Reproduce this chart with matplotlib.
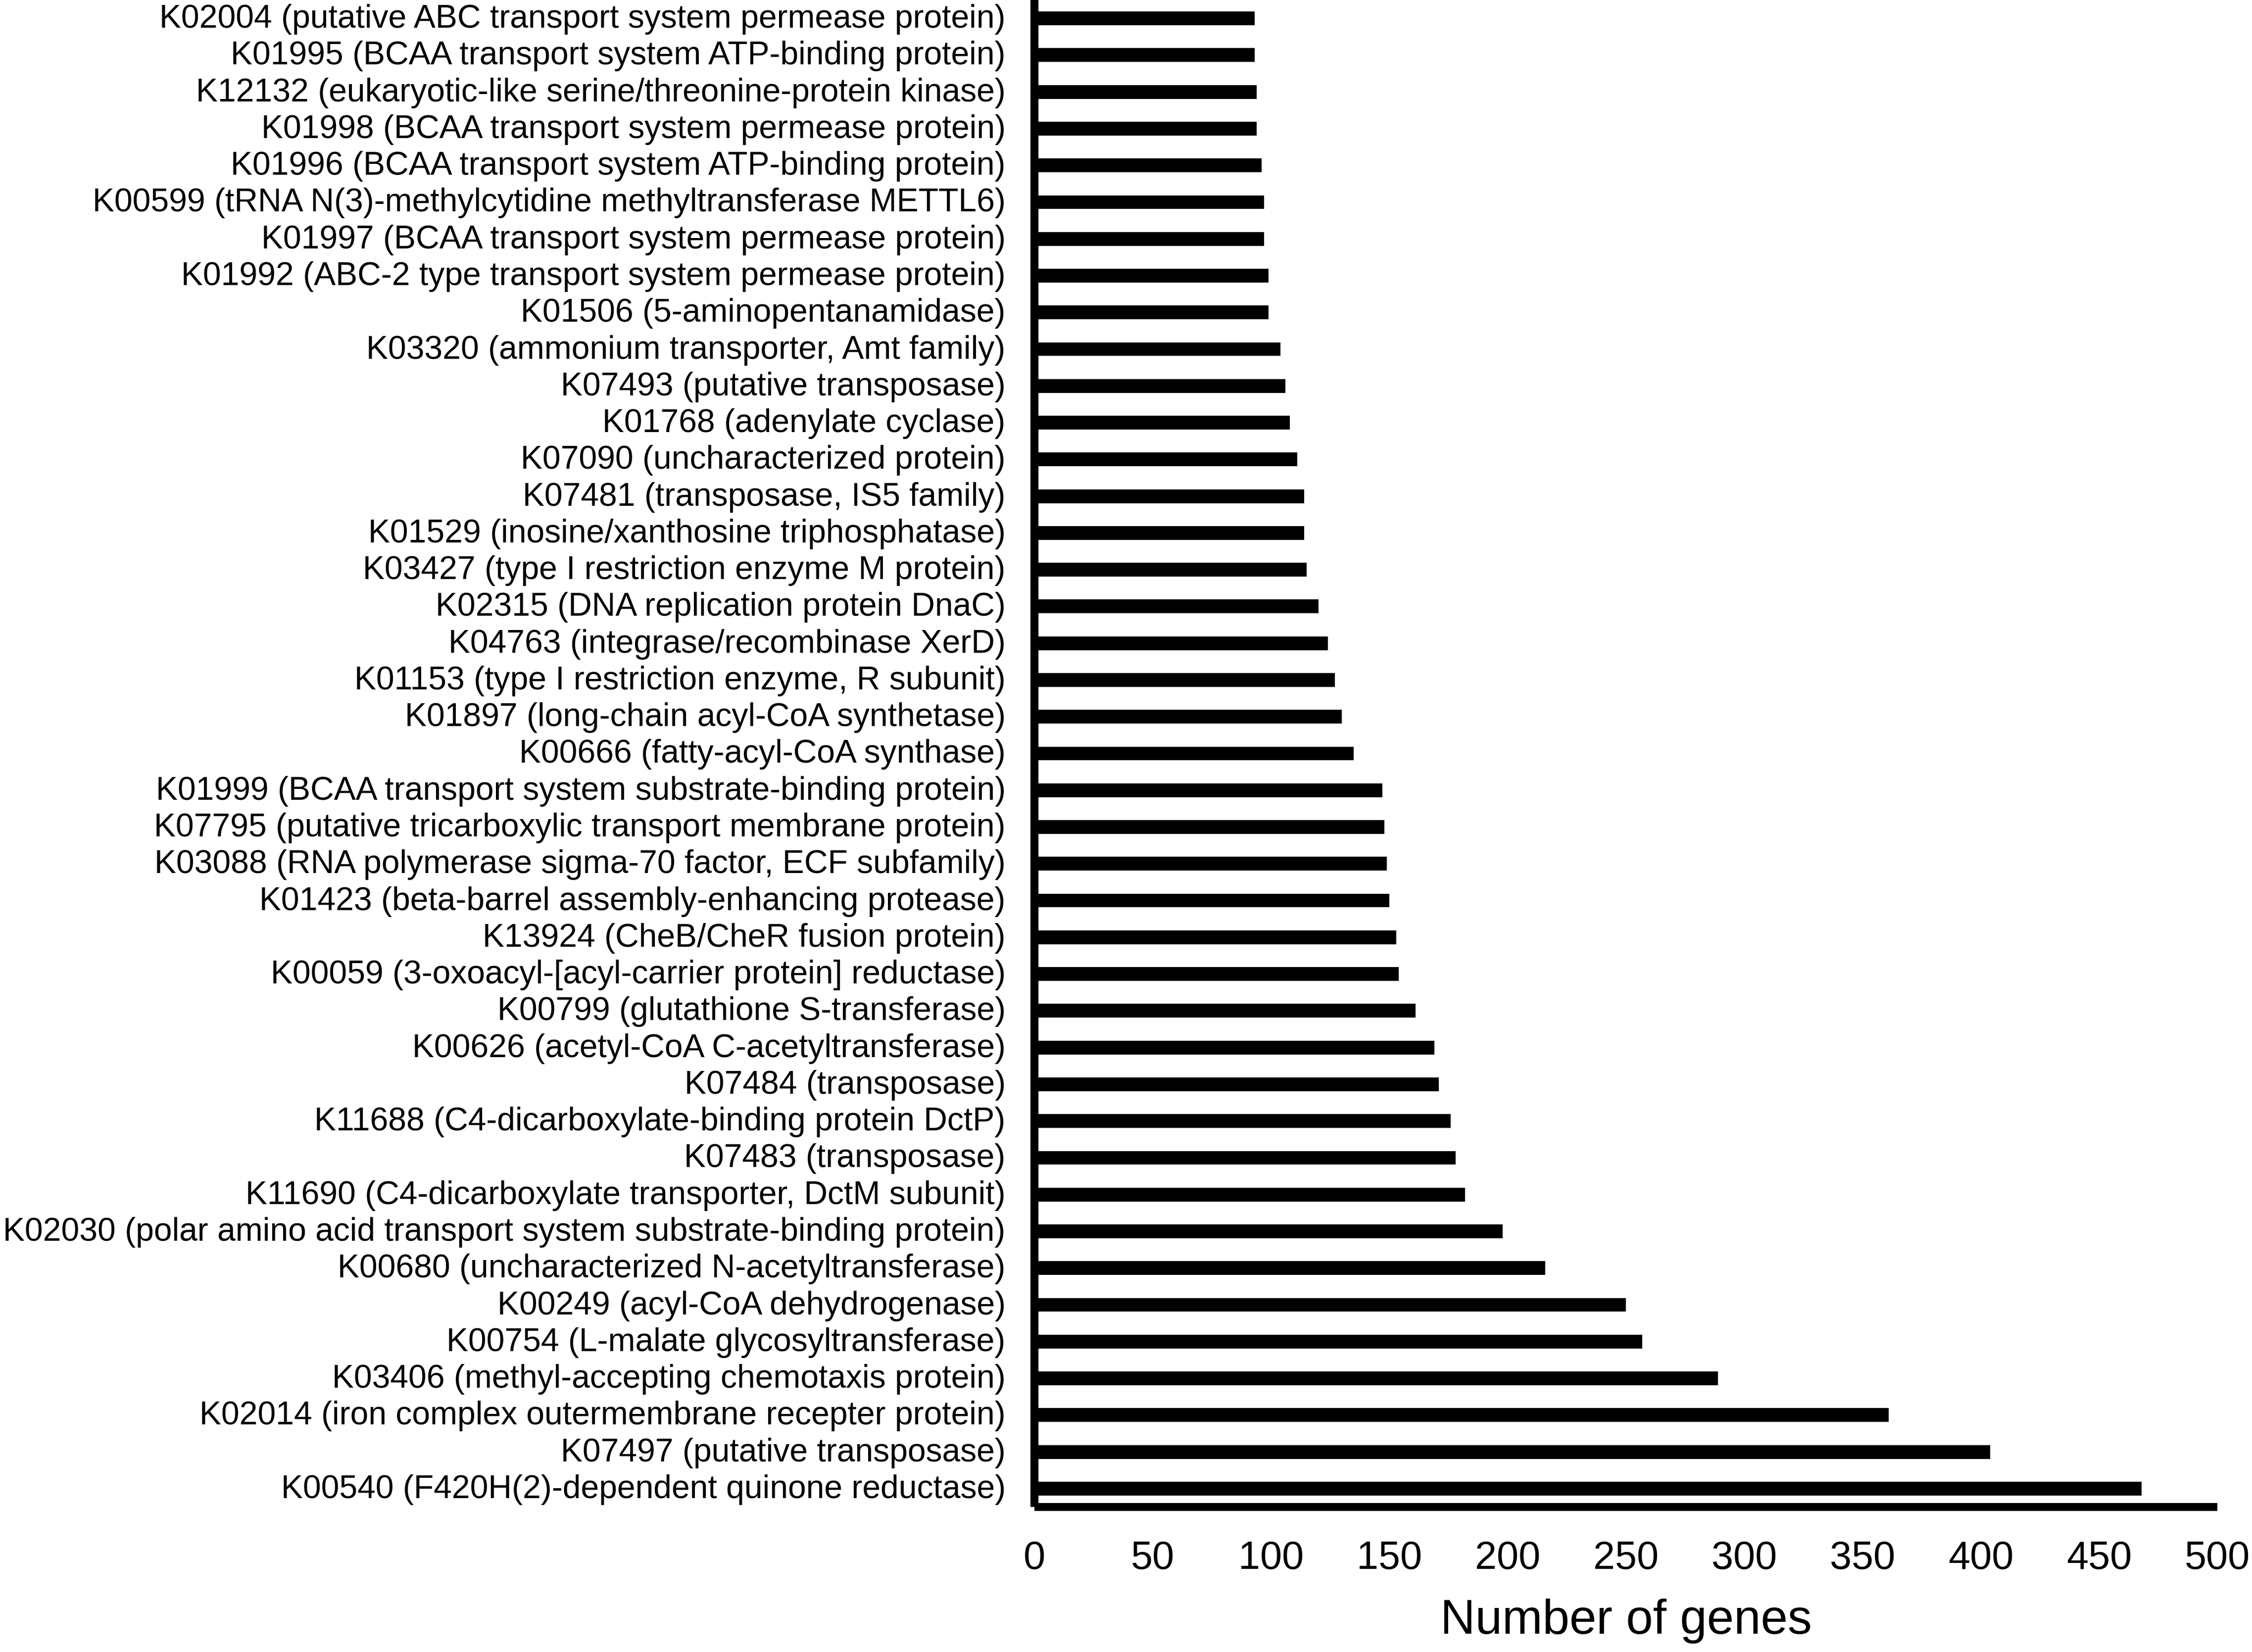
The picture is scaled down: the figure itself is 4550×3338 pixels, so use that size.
import matplotlib
matplotlib.use("Agg")
from matplotlib import pyplot as plt
from matplotlib.transforms import ScaledTranslation
import numpy as np

plt.rcParams['font.family'] = ['Liberation Sans', 'DejaVu Sans']

# KO ids and descriptions, top to bottom as in the figure
ko_ids = [
    "K02004", "K01995", "K12132", "K01998", "K01996", "K00599", "K01997",
    "K01992", "K01506", "K03320", "K07493", "K01768", "K07090", "K07481",
    "K01529", "K03427", "K02315", "K04763", "K01153", "K01897", "K00666",
    "K01999", "K07795", "K03088", "K01423", "K13924", "K00059", "K00799",
    "K00626", "K07484", "K11688", "K07483", "K11690", "K02030", "K00680",
    "K00249", "K00754", "K03406", "K02014", "K07497", "K00540",
]
descriptions = [
    "putative ABC transport system permease protein",
    "BCAA transport system ATP-binding protein",
    "eukaryotic-like serine/threonine-protein kinase",
    "BCAA transport system permease protein",
    "BCAA transport system ATP-binding protein",
    "tRNA N(3)-methylcytidine methyltransferase METTL6",
    "BCAA transport system permease protein",
    "ABC-2 type transport system permease protein",
    "5-aminopentanamidase",
    "ammonium transporter, Amt family",
    "putative transposase",
    "adenylate cyclase",
    "uncharacterized protein",
    "transposase, IS5 family",
    "inosine/xanthosine triphosphatase",
    "type I restriction enzyme M protein",
    "DNA replication protein DnaC",
    "integrase/recombinase XerD",
    "type I restriction enzyme, R subunit",
    "long-chain acyl-CoA synthetase",
    "fatty-acyl-CoA synthase",
    "BCAA transport system substrate-binding protein",
    "putative tricarboxylic transport membrane protein",
    "RNA polymerase sigma-70 factor, ECF subfamily",
    "beta-barrel assembly-enhancing protease",
    "CheB/CheR fusion protein",
    "3-oxoacyl-[acyl-carrier protein] reductase",
    "glutathione S-transferase",
    "acetyl-CoA C-acetyltransferase",
    "transposase",
    "C4-dicarboxylate-binding protein DctP",
    "transposase",
    "C4-dicarboxylate transporter, DctM subunit",
    "polar amino acid transport system substrate-binding protein",
    "uncharacterized N-acetyltransferase",
    "acyl-CoA dehydrogenase",
    "L-malate glycosyltransferase",
    "methyl-accepting chemotaxis protein",
    "iron complex outermembrane recepter protein",
    "putative transposase",
    "F420H(2)-dependent quinone reductase",
]
n_genes = [
    93, 93, 94, 94, 96, 97, 97, 99, 99, 104, 106, 108, 111, 114, 114, 115,
    120, 124, 127, 130, 135, 147, 148, 149, 150, 153, 154, 161, 169, 171,
    176, 178, 182, 198, 216, 250, 257, 289, 361, 404, 468,
]

labels = [f"{k} ({d})" for k, d in zip(ko_ids, descriptions)]
y_pos = np.arange(len(labels))[::-1]

fig = plt.figure(figsize=(4550 / 300, 3338 / 300), dpi=300)
ax = fig.add_axes([0.45934, 0.08778, 0.52527, 0.91222])

ax.barh(y_pos, n_genes, height=0.375, color='black', edgecolor='none')

ax.set_xlim(0, 500)
ax.set_ylim(-0.5, len(labels) - 0.5)
ax.set_xticks(np.arange(0, 501, 50))
ax.set_yticks(y_pos)
ax.set_yticklabels(labels)

ax.tick_params(axis='y', length=0, pad=14, labelsize=15.85)
ax.tick_params(axis='x', length=0, pad=16, labelsize=19)
ax.set_xlabel("Number of genes", fontsize=23.5, labelpad=10.5)

# labels sit a touch above the bar centre in the original
shift = ScaledTranslation(0, 1.2 / 72, fig.dpi_scale_trans)
for lbl in ax.get_yticklabels():
    lbl.set_transform(lbl.get_transform() + shift)

for side in ['top', 'right']:
    ax.spines[side].set_visible(False)
for side in ['left', 'bottom']:
    ax.spines[side].set_linewidth(3.85)
    ax.spines[side].set_color('black')
    ax.spines[side].set_capstyle('butt')

fig.savefig("out.png", dpi=300)
